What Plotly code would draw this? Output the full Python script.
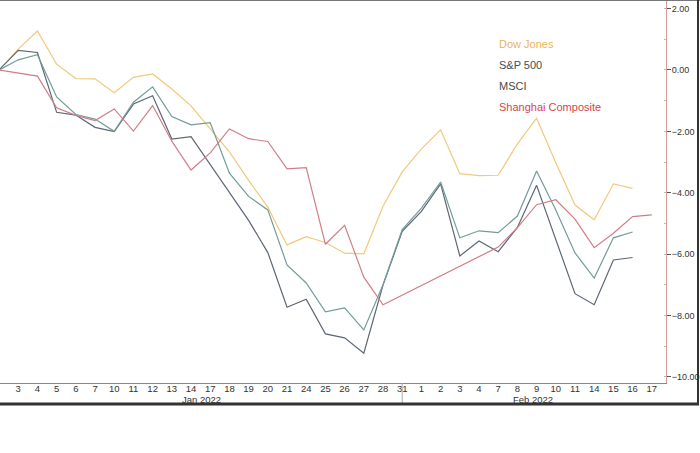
import plotly.graph_objects as go

# trading days, first one is the base (Dec 31 2021)
dates = ["2021-12-31",
         "2022-01-03", "2022-01-04", "2022-01-05", "2022-01-06", "2022-01-07",
         "2022-01-10", "2022-01-11", "2022-01-12", "2022-01-13", "2022-01-14",
         "2022-01-17", "2022-01-18", "2022-01-19", "2022-01-20", "2022-01-21",
         "2022-01-24", "2022-01-25", "2022-01-26", "2022-01-27", "2022-01-28",
         "2022-01-31", "2022-02-01", "2022-02-02", "2022-02-03", "2022-02-04",
         "2022-02-07", "2022-02-08", "2022-02-09", "2022-02-10", "2022-02-11",
         "2022-02-14", "2022-02-15", "2022-02-16", "2022-02-17"]

# % change since Dec 31
dow = [0, 0.68, 1.27, 0.19, -0.28, -0.29, -0.74, -0.24, -0.13, -0.62, -1.17,
       -1.92, -2.67, -3.60, -4.47, -5.70, -5.43, -5.62, -5.97, -5.99, -4.44,
       -3.32, -2.57, -1.95, -3.38, -3.44, -3.43, -2.41, -1.57, -3.02, -4.40,
       -4.88, -3.71, -3.86, None]
sp500 = [0, 0.64, 0.57, -1.38, -1.47, -1.87, -2.01, -1.11, -0.84, -2.25, -2.17,
         -3.07, -3.97, -4.90, -5.95, -7.73, -7.47, -8.60, -8.73, -9.23, -7.01,
         -5.26, -4.61, -3.71, -6.06, -5.57, -5.92, -5.13, -3.76, -5.50, -7.29,
         -7.65, -6.19, -6.11, None]
msci = [0, 0.33, 0.50, -0.88, -1.45, -1.60, -2.00, -1.05, -0.55, -1.52, -1.79,
        -1.72, -3.36, -4.12, -4.56, -6.35, -6.94, -7.88, -7.75, -8.47, -7.00,
        -5.20, -4.50, -3.65, -5.47, -5.24, -5.30, -4.76, -3.29, -4.56, -5.96,
        -6.78, -5.47, -5.28, None]
shanghai = [0, None, -0.20, -1.23, -1.48, -1.65, -1.27, -1.99, -1.16, -2.32, -3.26,
            -2.70, -1.92, -2.24, -2.33, -3.22, -3.18, -5.68, -5.06, -6.75, -7.65,
            None, None, None, None, None, -5.77, -5.14, -4.39, -4.23, -4.86,
            -5.79, -5.32, -4.78, -4.72]

names = ["Dow Jones", "S&P 500", "MSCI", "Shanghai Composite"]
line_colors = ["#f2c97c", "#5c6774", "#739c99", "#cf7e86"]
text_colors = ["#e9b45c", "#3d4b5a", "#4b4b40", "#d5454c"]

day_labels = [str(int(d[-2:])) for d in dates]

fig = go.Figure()
for name, vals, col in zip(names, [dow, sp500, msci, shanghai], line_colors):
    fig.add_trace(go.Scatter(x=dates, y=vals, name=name, mode="lines",
                             line=dict(color=col, width=1.2),
                             connectgaps=True, showlegend=False))

W, H = 700, 453
left, right, top, bottom = 0, 34, 0, 70
pw, ph = W - left - right, H - top - bottom

def px_x(x):
    return (x - left) / pw

def px_y(y):
    return (H - bottom - y) / ph

# legend as coloured text
legend_y = [44, 65, 86, 107]
for name, col, yy in zip(names, text_colors, legend_y):
    fig.add_annotation(text=name, x=px_x(497), y=px_y(yy), xref="paper", yref="paper",
                       xanchor="left", yanchor="middle", showarrow=False,
                       font=dict(color=col, size=11))

# month labels
fig.add_annotation(text="Jan 2022", x=px_x(201), y=px_y(399), xref="paper", yref="paper",
                   xanchor="center", yanchor="middle",
                   showarrow=False, font=dict(size=9.5, color="#333333"))
fig.add_annotation(text="Feb 2022", x=px_x(533), y=px_y(399), xref="paper", yref="paper",
                   xanchor="center", yanchor="middle",
                   showarrow=False, font=dict(size=9.5, color="#333333"))

# month separator
fig.add_shape(type="line", xref="x", yref="paper", x0="2022-01-31", x1="2022-01-31",
              y0=0, y1=px_y(403), line=dict(color="#aaaaaa", width=1))

# outer frame
fig.add_shape(type="line", xref="paper", yref="paper", x0=px_x(0), x1=px_x(700),
              y0=px_y(0.5), y1=px_y(0.5), line=dict(color="#777777", width=1))
fig.add_shape(type="line", xref="paper", yref="paper", x0=px_x(698), x1=px_x(698),
              y0=px_y(0), y1=px_y(405), line=dict(color="#333333", width=2))
fig.add_shape(type="line", xref="paper", yref="paper", x0=px_x(0), x1=px_x(699),
              y0=px_y(404), y1=px_y(404), line=dict(color="#333333", width=3))

fig.update_xaxes(type="category", range=[0.05, 34.74], automargin=False,
                 tickvals=dates[1:], ticktext=day_labels[1:],
                 showgrid=False, showline=True, linecolor="#888888", linewidth=1,
                 ticks="", tickangle=0, ticklabelstandoff=-3,
                 tickfont=dict(size=9.5, color="#333333"))
fig.update_yaxes(side="right", range=[-10.2, 2.28], dtick=2, tickformat=".2f",
                 automargin=False,
                 showgrid=False, zeroline=False, showline=True,
                 linecolor="#d59a9a", linewidth=1,
                 ticks="outside", ticklen=4, tickcolor="#555555",
                 ticklabelstandoff=-1,
                 minor=dict(dtick=1, ticks="inside", ticklen=2, tickcolor="#bbbbbb"),
                 tickfont=dict(size=9, color="#333333"))

fig.update_layout(width=W, height=H, margin=dict(l=left, r=right, t=top, b=bottom),
                  paper_bgcolor="white", plot_bgcolor="white",
                  font=dict(family="Liberation Sans, Arial, sans-serif"))

fig.write_html("out.html", config={"displayModeBar": False},
               post_script="document.body.style.margin='0';")
